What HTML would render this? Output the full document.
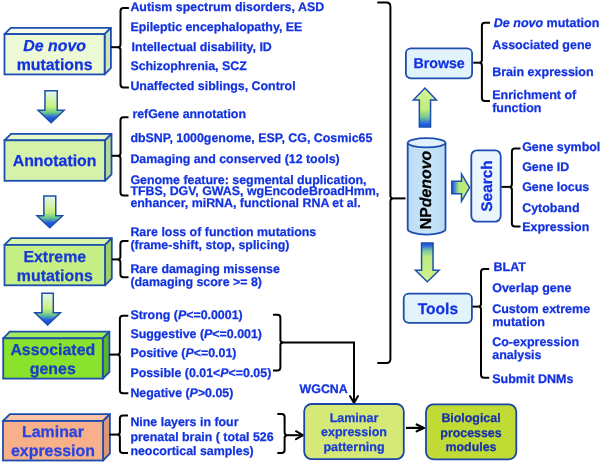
<!DOCTYPE html>
<html><head><meta charset="utf-8"><style>
html,body{margin:0;padding:0;background:#fff;}
body{width:600px;height:464px;overflow:hidden;}
svg{display:block;filter:blur(0.3px);font-family:"Liberation Sans",sans-serif;font-weight:bold;text-rendering:geometricPrecision;}
text{paint-order:stroke;stroke-width:0.25px;stroke-linejoin:round;}
</style></head><body>
<svg width="600" height="464" viewBox="0 0 600 464">
<defs>
<linearGradient id="gdown" x1="0" y1="0" x2="0" y2="1">
 <stop offset="0" stop-color="#e4f6ee"/>
 <stop offset="0.5" stop-color="#c6f07a"/>
 <stop offset="0.68" stop-color="#6cc88a"/>
 <stop offset="0.85" stop-color="#1f58e6"/>
 <stop offset="1" stop-color="#1a4fe0"/>
</linearGradient>
<linearGradient id="gup" x1="0" y1="0" x2="0" y2="1">
 <stop offset="0" stop-color="#d6f29a"/>
 <stop offset="0.55" stop-color="#c2ee7a"/>
 <stop offset="0.75" stop-color="#70c890"/>
 <stop offset="0.92" stop-color="#1f62e8"/>
 <stop offset="1" stop-color="#1a50e0"/>
</linearGradient>
<linearGradient id="gdown2" x1="0" y1="0" x2="0" y2="1">
 <stop offset="0" stop-color="#1a4ee0"/>
 <stop offset="0.06" stop-color="#2a62e4"/>
 <stop offset="0.2" stop-color="#7cc8a0"/>
 <stop offset="0.36" stop-color="#bcec7c"/>
 <stop offset="1" stop-color="#d4f290"/>
</linearGradient>
<linearGradient id="gright" x1="0" y1="0" x2="1" y2="0">
 <stop offset="0" stop-color="#1a50e0"/>
 <stop offset="0.15" stop-color="#3f88d8"/>
 <stop offset="0.4" stop-color="#b0e878"/>
 <stop offset="1" stop-color="#c8f078"/>
</linearGradient>
<linearGradient id="gcyl" x1="0" y1="0" x2="1" y2="0">
 <stop offset="0" stop-color="#bcdcf4"/>
 <stop offset="0.5" stop-color="#c8e5f8"/>
 <stop offset="1" stop-color="#bcdcf4"/>
</linearGradient>
</defs>
<polygon points="4.5,34.1 10.8,27.8 110.89999999999999,27.8 104.6,34.1" fill="#f6fdea" stroke="#1c4eb0" stroke-width="1.8" stroke-linejoin="round"/>
<polygon points="104.6,34.1 110.89999999999999,27.8 110.89999999999999,68.10000000000001 104.6,74.4" fill="#cfe3bf" stroke="#1c4eb0" stroke-width="1.8" stroke-linejoin="round"/>
<rect x="4.5" y="34.1" width="100.1" height="40.300000000000004" fill="#eefad6" stroke="#1c4eb0" stroke-width="1.8"/>
<polygon points="4.5,140.3 11.0,133.8 111.5,133.8 105,140.3" fill="#e4f8c8" stroke="#1c4eb0" stroke-width="1.8" stroke-linejoin="round"/>
<polygon points="105,140.3 111.5,133.8 111.5,174.3 105,180.8" fill="#b4d896" stroke="#1c4eb0" stroke-width="1.8" stroke-linejoin="round"/>
<rect x="4.5" y="140.3" width="100.5" height="40.5" fill="#d6f2aa" stroke="#1c4eb0" stroke-width="1.8"/>
<polygon points="4.5,244.9 11.3,238.1 111.8,238.1 105,244.9" fill="#d8f6a8" stroke="#1c4eb0" stroke-width="1.8" stroke-linejoin="round"/>
<polygon points="105,244.9 111.8,238.1 111.8,278.5 105,285.3" fill="#a0d068" stroke="#1c4eb0" stroke-width="1.8" stroke-linejoin="round"/>
<rect x="4.5" y="244.9" width="100.5" height="40.400000000000006" fill="#c6f086" stroke="#1c4eb0" stroke-width="1.8"/>
<polygon points="3.2,338.3 9.8,331.7 109.39999999999999,331.7 102.8,338.3" fill="#a2ea58" stroke="#1c4eb0" stroke-width="1.8" stroke-linejoin="round"/>
<polygon points="102.8,338.3 109.39999999999999,331.7 109.39999999999999,372.0 102.8,378.6" fill="#5eb428" stroke="#1c4eb0" stroke-width="1.8" stroke-linejoin="round"/>
<rect x="3.2" y="338.3" width="99.6" height="40.30000000000001" fill="#8ae22c" stroke="#1c4eb0" stroke-width="1.8"/>
<polygon points="3,421 9.9,414.1 109.9,414.1 103,421" fill="#fac4a4" stroke="#1c4eb0" stroke-width="1.8" stroke-linejoin="round"/>
<polygon points="103,421 109.9,414.1 109.9,453.6 103,460.5" fill="#dc9676" stroke="#1c4eb0" stroke-width="1.8" stroke-linejoin="round"/>
<rect x="3" y="421" width="100" height="39.5" fill="#f8b08a" stroke="#1c4eb0" stroke-width="1.8"/>
<text x="54.6" y="50.5" font-size="15.9" fill="#1232e0" stroke="#1232e0" text-anchor="middle" ><tspan font-style="italic">De novo</tspan></text>
<text x="54.6" y="69.5" font-size="15.9" fill="#1232e0" stroke="#1232e0" text-anchor="middle" >mutations</text>
<text x="54.6" y="166.2" font-size="15.9" fill="#1232e0" stroke="#1232e0" text-anchor="middle" >Annotation</text>
<text x="54.8" y="261.7" font-size="15.9" fill="#1838d4" stroke="#1838d4" text-anchor="middle" >Extreme</text>
<text x="54.8" y="280.8" font-size="15.9" fill="#1838d4" stroke="#1838d4" text-anchor="middle" >mutations</text>
<text x="52.8" y="354.8" font-size="15.9" fill="#1640c4" stroke="#1640c4" text-anchor="middle" >Associated</text>
<text x="52.8" y="373.6" font-size="15.9" fill="#1640c4" stroke="#1640c4" text-anchor="middle" >genes</text>
<text x="53" y="437" font-size="15.9" fill="#2844e0" stroke="#2844e0" text-anchor="middle" >Laminar</text>
<text x="53" y="455.7" font-size="15.9" fill="#2844e0" stroke="#2844e0" text-anchor="middle" >expression</text>
<polygon points="44.95,90.7 57.25,90.7 57.25,110.3 64.1,110.3 51.1,122.8 38.1,110.3 44.95,110.3" fill="url(#gdown)" stroke="#1c4eb0" stroke-width="1.5" stroke-linejoin="miter"/>
<polygon points="43.849999999999994,196.1 55.75,196.1 55.75,215.8 62.55,215.8 49.8,227.8 37.05,215.8 43.849999999999994,215.8" fill="url(#gdown)" stroke="#1c4eb0" stroke-width="1.5" stroke-linejoin="miter"/>
<polygon points="41.9,293.2 53.300000000000004,293.2 53.300000000000004,312.8 60.400000000000006,312.8 47.6,324.9 34.8,312.8 41.9,312.8" fill="url(#gdown)" stroke="#1c4eb0" stroke-width="1.5" stroke-linejoin="miter"/>
<path d="M128.9,8 L123.5,8 Q120.5,8 120.5,11 L120.5,44.6 Q120.5,47.2 117.9,47.2 Q120.5,47.2 120.5,49.800000000000004 L120.5,84.5 Q120.5,87.5 123.5,87.5 L128.9,87.5" fill="none" stroke="#000" stroke-width="2"/>
<line x1="111" y1="47.2" x2="118.2" y2="47.2" stroke="#000" stroke-width="2"/>
<path d="M128.5,117.2 L123.5,117.2 Q120.5,117.2 120.5,120.2 L120.5,153.20000000000002 Q120.5,155.8 117.9,155.8 Q120.5,155.8 120.5,158.4 L120.5,192.6 Q120.5,195.6 123.5,195.6 L128.5,195.6" fill="none" stroke="#000" stroke-width="2"/>
<line x1="111.5" y1="155.8" x2="118.2" y2="155.8" stroke="#000" stroke-width="2"/>
<path d="M128.5,241 L123.4,241 Q120.4,241 120.4,244 L120.4,256.79999999999995 Q120.4,259.4 117.80000000000001,259.4 Q120.4,259.4 120.4,262.0 L120.4,274.3 Q120.4,277.3 123.4,277.3 L128.5,277.3" fill="none" stroke="#000" stroke-width="2"/>
<line x1="111.8" y1="259.4" x2="118.10000000000001" y2="259.4" stroke="#000" stroke-width="2"/>
<path d="M128.3,315.7 L122.9,315.7 Q119.9,315.7 119.9,318.7 L119.9,352.0 Q119.9,354.6 117.30000000000001,354.6 Q119.9,354.6 119.9,357.20000000000005 L119.9,390.3 Q119.9,393.3 122.9,393.3 L128.3,393.3" fill="none" stroke="#000" stroke-width="2"/>
<line x1="109.2" y1="354.6" x2="117.60000000000001" y2="354.6" stroke="#000" stroke-width="2"/>
<path d="M128,415.6 L122.9,415.6 Q119.9,415.6 119.9,418.6 L119.9,432.0 Q119.9,434.6 117.30000000000001,434.6 Q119.9,434.6 119.9,437.20000000000005 L119.9,450 Q119.9,453 122.9,453 L128,453" fill="none" stroke="#000" stroke-width="2"/>
<line x1="109" y1="434.6" x2="117.60000000000001" y2="434.6" stroke="#000" stroke-width="2"/>
<text x="130.4" y="11.2" font-size="12.4" fill="#1232e0" stroke="#1232e0" text-anchor="start" >Autism spectrum disorders, ASD</text>
<text x="130.4" y="30.6" font-size="12.4" fill="#1232e0" stroke="#1232e0" text-anchor="start" >Epileptic encephalopathy, EE</text>
<text x="130.4" y="70.2" font-size="12.4" fill="#1232e0" stroke="#1232e0" text-anchor="start" >Schizophrenia, SCZ</text>
<text x="130.4" y="90" font-size="12.4" fill="#1232e0" stroke="#1232e0" text-anchor="start" >Unaffected siblings, Control</text>
<text x="130.4" y="142" font-size="12.4" fill="#1232e0" stroke="#1232e0" text-anchor="start" >dbSNP, 1000genome, ESP, CG, Cosmic65</text>
<text x="130.4" y="163" font-size="12.4" fill="#1232e0" stroke="#1232e0" text-anchor="start" >Damaging and conserved (12 tools)</text>
<text x="130.4" y="184" font-size="12.4" fill="#1232e0" stroke="#1232e0" text-anchor="start" >Genome feature: segmental duplication,</text>
<text x="130.4" y="195.1" font-size="12.4" fill="#1232e0" stroke="#1232e0" text-anchor="start" >TFBS, DGV, GWAS, wgEncodeBroadHmm,</text>
<text x="130.4" y="206.7" font-size="12.4" fill="#1232e0" stroke="#1232e0" text-anchor="start" >enhancer, miRNA, functional RNA et al.</text>
<text x="130.4" y="236.4" font-size="12.4" fill="#1232e0" stroke="#1232e0" text-anchor="start" >Rare loss of function mutations</text>
<text x="130.4" y="249.4" font-size="12.4" fill="#1232e0" stroke="#1232e0" text-anchor="start" >(frame-shift, stop, splicing)</text>
<text x="130.4" y="272.6" font-size="12.4" fill="#1232e0" stroke="#1232e0" text-anchor="start" >Rare damaging missense</text>
<text x="130.4" y="285.6" font-size="12.4" fill="#1232e0" stroke="#1232e0" text-anchor="start" >(damaging score &gt;= 8)</text>
<text x="130.4" y="318.6" font-size="12.4" fill="#1232e0" stroke="#1232e0" text-anchor="start" >Strong (<tspan font-style="italic">P</tspan>&lt;=0.0001)</text>
<text x="130.4" y="337.5" font-size="12.4" fill="#1232e0" stroke="#1232e0" text-anchor="start" >Suggestive (<tspan font-style="italic">P</tspan>&lt;=0.001)</text>
<text x="130.4" y="357.3" font-size="12.4" fill="#1232e0" stroke="#1232e0" text-anchor="start" >Positive (<tspan font-style="italic">P</tspan>&lt;=0.01)</text>
<text x="130.4" y="376.8" font-size="12.4" fill="#1232e0" stroke="#1232e0" text-anchor="start" >Possible (0.01&lt;<tspan font-style="italic">P</tspan>&lt;=0.05)</text>
<text x="130.4" y="397.3" font-size="12.4" fill="#1232e0" stroke="#1232e0" text-anchor="start" >Negative (<tspan font-style="italic">P</tspan>&gt;0.05)</text>
<text x="130.4" y="425.7" font-size="12.4" fill="#1232e0" stroke="#1232e0" text-anchor="start" >Nine layers in four</text>
<text x="130.4" y="441" font-size="12.4" fill="#1232e0" stroke="#1232e0" text-anchor="start" >prenatal brain ( total 526</text>
<text x="130.4" y="454.6" font-size="12.4" fill="#1232e0" stroke="#1232e0" text-anchor="start" >neocortical samples)</text>
<text x="131.6" y="50.6" font-size="12.4" fill="#1232e0" stroke="#1232e0" text-anchor="start" >Intellectual disability, ID</text>
<text x="132.4" y="118.3" font-size="12.4" fill="#1232e0" stroke="#1232e0" text-anchor="start" >refGene annotation</text>
<path d="M273,314.7 L277.4,314.7 Q280.4,314.7 280.4,317.7 L280.4,339.9 Q280.4,342.5 283.0,342.5 Q280.4,342.5 280.4,345.1 L280.4,367.6 Q280.4,370.6 277.4,370.6 L273,370.6" fill="none" stroke="#000" stroke-width="2"/>
<polyline points="281.5,342.5 354,342.5 354,402" fill="none" stroke="#000" stroke-width="2"/>
<polyline points="350,396 354,403 358,396" fill="none" stroke="#000" stroke-width="2" stroke-linecap="round"/>
<path d="M277.3,413.9 L281.6,413.9 Q284.6,413.9 284.6,416.9 L284.6,432.59999999999997 Q284.6,435.2 287.20000000000005,435.2 Q284.6,435.2 284.6,437.8 L284.6,450 Q284.6,453 281.6,453 L277.3,453" fill="none" stroke="#000" stroke-width="2"/>
<line x1="285.5" y1="435.2" x2="303" y2="435.2" stroke="#000" stroke-width="2"/>
<polyline points="296.00,439.20 303,435.2 296.00,431.20" fill="none" stroke="#000" stroke-width="2" stroke-linecap="round" stroke-linejoin="miter"/>
<text x="299.6" y="393.4" font-size="12.4" fill="#1232e0" stroke="#1232e0" text-anchor="start" >WGCNA</text>
<path d="M377.3,2.6 L386.4,2.6 Q390.4,2.6 390.4,6.6 L390.4,195.8 Q390.4,198.4 393.0,198.4 Q390.4,198.4 390.4,201.0 L390.4,359 Q390.4,363 386.4,363 L377.3,363" fill="none" stroke="#000" stroke-width="2"/>
<line x1="392.7" y1="198.4" x2="405.5" y2="198.4" stroke="#000" stroke-width="2"/>
<rect x="304.2" y="404" width="99.6" height="55.2" rx="7.5" fill="#d6e876" stroke="#1a46a8" stroke-width="1.8"/>
<text x="354" y="421.7" font-size="12.5" fill="#1a3cd0" stroke="#1a3cd0" text-anchor="middle" >Laminar</text>
<text x="354" y="436.2" font-size="12.5" fill="#1a3cd0" stroke="#1a3cd0" text-anchor="middle" >expression</text>
<text x="354" y="451" font-size="12.5" fill="#1a3cd0" stroke="#1a3cd0" text-anchor="middle" >patterning</text>
<line x1="406" y1="427.9" x2="423.7" y2="427.9" stroke="#000" stroke-width="2.2"/>
<polyline points="416.70,431.30 423.7,427.9 416.70,424.50" fill="none" stroke="#000" stroke-width="2.2" stroke-linecap="round" stroke-linejoin="miter"/>
<rect x="426" y="404.3" width="90.3" height="55" rx="7.5" fill="#c0dc34" stroke="#1a46a8" stroke-width="1.8"/>
<text x="471" y="421.6" font-size="12.4" fill="#1830a8" stroke="#1830a8" text-anchor="middle" >Biological</text>
<text x="471" y="436.5" font-size="12.4" fill="#1830a8" stroke="#1830a8" text-anchor="middle" >processes</text>
<text x="471" y="451.3" font-size="12.4" fill="#1830a8" stroke="#1830a8" text-anchor="middle" >modules</text>
<rect x="405.9" y="48.3" width="66.2" height="30" rx="5" fill="#e2f3fc" stroke="#1c4eb0" stroke-width="1.8"/>
<text x="439.1" y="68.4" font-size="14.2" fill="#1232e0" stroke="#1232e0" text-anchor="middle" >Browse</text>
<rect x="403.7" y="293.6" width="68.2" height="29.2" rx="5" fill="#e2f3fc" stroke="#1c4eb0" stroke-width="1.8"/>
<text x="437.9" y="314" font-size="15.6" fill="#1232e0" stroke="#1232e0" text-anchor="middle" >Tools</text>
<rect x="471.3" y="150.4" width="29.4" height="71.2" rx="5.5" fill="#eaf6fc" stroke="#1c4eb0" stroke-width="1.8"/>
<text x="0" y="0" font-size="15.4" fill="#1232e0" stroke="#1232e0" text-anchor="middle" transform="translate(491.6,186) rotate(-90)">Search</text>
<path d="M407.7,142.8 L407.7,229 A18.9,5.6 0 0 0 445.5,229 L445.5,142.8" fill="url(#gcyl)" stroke="#1c4eb0" stroke-width="1.8"/>
<ellipse cx="426.6" cy="142.8" rx="18.9" ry="4.6" fill="#e0f1fb" stroke="#1c4eb0" stroke-width="1.8"/>
<text x="0" y="0" font-size="15.9" fill="#000" stroke="#000" text-anchor="start" transform="translate(431.4,229.3) rotate(-90)">NP<tspan font-style="italic">denovo</tspan></text>
<polygon points="419.34999999999997,127.1 430.55,127.1 430.55,100 436.5,100 424.95,88 413.4,100 419.34999999999997,100" fill="url(#gup)" stroke="#1c4eb0" stroke-width="1.5" stroke-linejoin="miter"/>
<polygon points="421.55,242.9 433.05,242.9 433.05,270.3 439.1,270.3 427.3,281.7 415.5,270.3 421.55,270.3" fill="url(#gdown2)" stroke="#1c4eb0" stroke-width="1.5" stroke-linejoin="miter"/>
<polygon points="451.8,181.35 461.5,181.35 461.5,173.9 469.5,187.6 461.5,201.3 461.5,193.85 451.8,193.85" fill="url(#gright)" stroke="#1c4eb0" stroke-width="1.5"/>
<path d="M490,22.8 L484.9,22.8 Q481.9,22.8 481.9,25.8 L481.9,60.1 Q481.9,62.7 479.29999999999995,62.7 Q481.9,62.7 481.9,65.3 L481.9,98 Q481.9,101 484.9,101 L490,101" fill="none" stroke="#000" stroke-width="2"/>
<line x1="473.3" y1="62.7" x2="479.59999999999997" y2="62.7" stroke="#000" stroke-width="2"/>
<path d="M520.5,148.4 L514.9,148.4 Q511.9,148.4 511.9,151.4 L511.9,184.3 Q511.9,186.9 509.29999999999995,186.9 Q511.9,186.9 511.9,189.5 L511.9,223.6 Q511.9,226.6 514.9,226.6 L520.5,226.6" fill="none" stroke="#000" stroke-width="2"/>
<line x1="501.6" y1="186.9" x2="509.59999999999997" y2="186.9" stroke="#000" stroke-width="2"/>
<path d="M489.2,269.1 L484,269.1 Q481,269.1 481,272.1 L481,304.0 Q481,306.6 478.4,306.6 Q481,306.6 481,309.20000000000005 L481,374.8 Q481,377.8 484,377.8 L489.2,377.8" fill="none" stroke="#000" stroke-width="2"/>
<line x1="472.5" y1="306.6" x2="478.7" y2="306.6" stroke="#000" stroke-width="2"/>
<text x="493.8" y="27.4" font-size="12.5" fill="#1232e0" stroke="#1232e0" text-anchor="start" ><tspan font-style="italic">De novo</tspan> mutation</text>
<text x="492.2" y="49.2" font-size="12.5" fill="#1232e0" stroke="#1232e0" text-anchor="start" >Associated gene</text>
<text x="492.2" y="75.8" font-size="12.5" fill="#1232e0" stroke="#1232e0" text-anchor="start" >Brain expression</text>
<text x="492.2" y="98.8" font-size="12.5" fill="#1232e0" stroke="#1232e0" text-anchor="start" >Enrichment of</text>
<text x="492.2" y="111.5" font-size="12.5" fill="#1232e0" stroke="#1232e0" text-anchor="start" >function</text>
<text x="522.2" y="151.2" font-size="12.45" fill="#1232e0" stroke="#1232e0" text-anchor="start" >Gene symbol</text>
<text x="522.2" y="171.2" font-size="12.45" fill="#1232e0" stroke="#1232e0" text-anchor="start" >Gene ID</text>
<text x="522.2" y="190.6" font-size="12.45" fill="#1232e0" stroke="#1232e0" text-anchor="start" >Gene locus</text>
<text x="522.2" y="211.7" font-size="12.45" fill="#1232e0" stroke="#1232e0" text-anchor="start" >Cytoband</text>
<text x="522.2" y="231.3" font-size="12.45" fill="#1232e0" stroke="#1232e0" text-anchor="start" >Expression</text>
<text x="492.2" y="292.4" font-size="12.5" fill="#1232e0" stroke="#1232e0" text-anchor="start" >Overlap gene</text>
<text x="492.2" y="312.8" font-size="12.5" fill="#1232e0" stroke="#1232e0" text-anchor="start" >Custom extreme</text>
<text x="492.2" y="325.7" font-size="12.5" fill="#1232e0" stroke="#1232e0" text-anchor="start" >mutation</text>
<text x="492.2" y="346.1" font-size="12.5" fill="#1232e0" stroke="#1232e0" text-anchor="start" >Co-expression</text>
<text x="492.2" y="358.9" font-size="12.5" fill="#1232e0" stroke="#1232e0" text-anchor="start" >analysis</text>
<text x="492.2" y="383.1" font-size="12.5" fill="#1232e0" stroke="#1232e0" text-anchor="start" >Submit DNMs</text>
<text x="493.6" y="270.9" font-size="12.5" fill="#1232e0" stroke="#1232e0" text-anchor="start" >BLAT</text>
</svg>
</body></html>
